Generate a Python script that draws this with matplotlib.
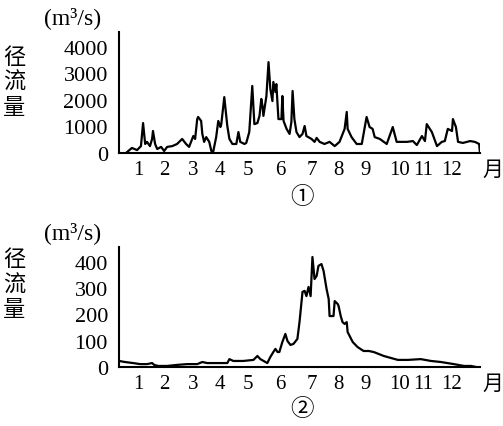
import matplotlib.pyplot as plt

plt.rcParams['font.family'] = ['Liberation Serif', 'Noto Sans CJK SC', 'DejaVu Sans']

# 图① 径流量 (m3/s), x 以月为单位
m1 = [0.27, 0.43, 0.60, 0.73, 0.80, 0.87, 0.93, 1.03, 1.10, 1.13, 1.20, 1.27, 1.40, 1.50,
      1.60, 1.77, 1.93, 2.10, 2.23, 2.33, 2.47, 2.53, 2.60, 2.63, 2.73, 2.77, 2.83, 2.90,
      3.00, 3.07, 3.13, 3.23, 3.30, 3.37, 3.40, 3.50, 3.60, 3.67, 3.77, 3.90, 3.97, 4.03,
      4.17, 4.23, 4.33, 4.43, 4.50, 4.60, 4.67, 4.73, 4.77, 4.80, 4.90, 4.97, 5.03, 5.10,
      5.13, 5.20, 5.23, 5.30, 5.40, 5.43, 5.47, 5.57, 5.67, 5.73, 5.77, 5.83, 5.90, 6.00,
      6.10, 6.17, 6.23, 6.40, 6.50, 6.57, 6.67, 6.83, 7.00, 7.17, 7.33, 7.50, 7.57, 7.60,
      7.73, 7.90, 8.07, 8.23, 8.33, 8.43, 8.50, 8.67, 8.90, 9.10, 9.23, 9.57, 9.77, 9.90,
      10.07, 10.17, 10.23, 10.40, 10.57, 10.73, 10.83, 10.93, 11.07, 11.10, 11.20, 11.27,
      11.43, 11.67, 11.83, 11.97, 12.0]
q1 = [38, 190, 110, 260, 1130, 340, 420, 260, 530, 830, 340, 150, 230, 75,
      230, 260, 340, 530, 340, 230, 640, 530, 1280, 1360, 1210, 720, 420, 600,
      420, 75, 40, 600, 1210, 980, 1090, 2110, 1020, 530, 340, 340, 790, 420,
      340, 380, 790, 2530, 1090, 1130, 1400, 2040, 1770, 1400, 2150, 3430, 2420, 1960,
      2680, 2300, 2600, 1280, 1280, 2150, 1210, 910, 720, 1170, 2340, 1280, 790, 600,
      720, 1020, 640, 530, 420, 570, 420, 340, 420, 260, 420, 910, 1550, 910,
      600, 340, 340, 1360, 980, 910, 600, 530, 340, 980, 420, 420, 450, 300,
      640, 450, 1090, 790, 260, 420, 450, 910, 830, 1280, 980, 420,
      380, 450, 420, 340, 0]

# 图② 径流量 (m3/s)
m2 = [0.0, 0.20, 0.47, 0.70, 0.93, 1.10, 1.17, 1.30, 1.60, 1.93, 2.27, 2.60, 2.77, 2.93,
      3.27, 3.60, 3.67, 3.80, 4.13, 4.47, 4.60, 4.70, 4.93, 5.03, 5.13, 5.20, 5.27, 5.33,
      5.43, 5.53, 5.60, 5.70, 5.80, 5.93, 6.00, 6.10, 6.17, 6.23, 6.30, 6.37, 6.43, 6.50,
      6.57, 6.63, 6.73, 6.80, 6.90, 6.97, 7.00, 7.13, 7.17, 7.27, 7.30, 7.37, 7.43, 7.50,
      7.57, 7.60, 7.77, 7.93, 8.13, 8.30, 8.47, 8.80, 9.27, 9.60, 10.03, 10.37, 10.70,
      11.13, 11.47, 11.70, 11.87]
q2 = [23, 19, 15, 11, 11, 15, 8, 4, 4, 8, 11, 11, 19, 15,
      15, 15, 30, 23, 23, 27, 42, 30, 15, 38, 57, 69, 57, 57,
      95, 126, 99, 84, 88, 107, 171, 286, 290, 270, 305, 270, 419, 335,
      347, 385, 392, 366, 297, 259, 194, 194, 251, 240, 232, 194, 171, 164,
      171, 133, 95, 76, 61, 61, 57, 42, 27, 27, 30, 23, 19,
      11, 4, 4, 0]

month_labels = ['1', '2', '3', '4', '5', '6', '7', '8', '9', '10', '11', '12']
month_pos = [0.66, 1.50, 2.46, 3.36, 4.29, 5.35, 6.42, 7.31, 8.18, 9.34, 10.11, 11.07]
yticks1 = [0, 1000, 2000, 3000, 4000]
yticks2 = [0, 100, 200, 300, 400]

W, H = 503, 427
fig = plt.figure(figsize=(W / 100, H / 100), dpi=100)


def px(x, y):
    return x / W, 1 - y / H


def panel(top, bottom, m, q, yticks, ymax):
    x0, y0 = px(119, bottom)
    x1, y1 = px(480, top)
    ax = fig.add_axes([x0, y0, x1 - x0, y1 - y0])
    ax.plot(m, q, color='black', lw=1.6)
    ax.set_xlim(0, 12)
    ax.set_ylim(0, ymax)
    for s in ['top', 'right']:
        ax.spines[s].set_visible(False)
    for s in ['left', 'bottom']:
        ax.spines[s].set_linewidth(1.5)
    ax.set_xticks(month_pos)
    ax.set_xticklabels(month_labels, fontsize=15)
    ax.set_yticks(yticks)
    ax.set_yticklabels([str(v) for v in yticks], fontsize=16)
    ax.tick_params(length=0, pad=8)
    ax.tick_params(axis='x', pad=5)
    return ax


panel(33, 154, m1, q1, yticks1, 4566)
panel(248, 368, m2, q2, yticks2, 457)

cjk = ['Noto Sans CJK SC', 'DejaVu Sans']
for top_y, unit_y, tag_y, yue_y, tag in [(57, 18, 198, 170, '①'), (260, 233, 410, 384, '②')]:
    fig.text(*px(73, unit_y), '(m³/s)', fontsize=17, ha='center', va='center')
    for i, ch in enumerate('径流量'):
        fig.text(*px(14, top_y + i * 25), ch, fontsize=16, ha='center', va='center', family=cjk)
    fig.text(*px(302, tag_y), tag, fontsize=17, ha='center', va='center', family=cjk)
    fig.text(*px(493, yue_y), '月', fontsize=15, ha='center', va='center', family=cjk)

fig.savefig('out.png', dpi=100)
